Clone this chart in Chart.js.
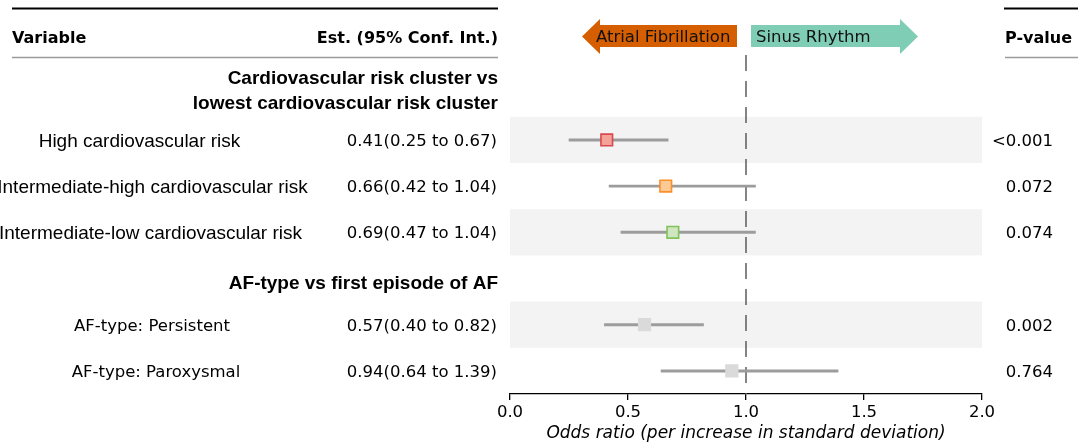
<!DOCTYPE html>
<html><head><meta charset="utf-8">
<script src="https://cdn.jsdelivr.net/npm/chart.js@4.4.1/dist/chart.umd.min.js"></script>
<style>html,body{margin:0;padding:0;background:#fff;overflow:hidden}#wrap{width:1078px;height:447px;position:relative}canvas{display:block}</style>
</head><body><div id="wrap"><canvas id="c" width="1078" height="447"></canvas></div>
<script>
// ---------------- data ----------------
const groupTitles = [["Cardiovascular risk cluster vs", "lowest cardiovascular risk cluster"], ["AF-type vs first episode of AF"]];
const categories = ["High cardiovascular risk", "Intermediate-high cardiovascular risk", "Intermediate-low cardiovascular risk", "AF-type: Persistent", "AF-type: Paroxysmal"];
const groupOfRow = [0, 0, 0, 1, 1];
const estimates = [0.41, 0.66, 0.69, 0.57, 0.94];
const lowerCI = [0.25, 0.42, 0.47, 0.40, 0.64];
const upperCI = [0.67, 1.04, 1.04, 0.82, 1.39];
const pValues = ["<0.001", "0.072", "0.074", "0.002", "0.764"];
const xTicks = [0.0, 0.5, 1.0, 1.5, 2.0];
const refValue = 1.0;
const directionLabels = ["Atrial Fibrillation", "Sinus Rhythm"];
const columnHeaders = ["Variable", "Est. (95% Conf. Int.)", "P-value"];
const xAxisTitle = "Odds ratio (per increase in standard deviation)";

// ---------------- styles / layout (not data) ----------------
const DV = '"DejaVu Sans", sans-serif';
const LS = '"Liberation Sans", Arial, sans-serif';
const labelCenterX = [139.5, 152.5, 150.5, 152, 156];
const labelUsesLS = [true, true, true, false, false];
const markerFill = ['#f4a197', '#fdc994', '#cfe6c0', '#dadada', '#dadada'];
const markerEdge = ['#d7484f', '#fb8f2a', '#82c25a', '#dadada', '#dadada'];

// row index layout: header row then its rows
const rowIndex = []; const headerIndex = []; const shaded = [];
let idx = 0;
groupTitles.forEach((g, gi) => {
  headerIndex.push(idx); idx++;
  let k = 0;
  categories.forEach((c, i) => {
    if (groupOfRow[i] === gi) { rowIndex[i] = idx; shaded[i] = (k % 2 === 0); idx++; k++; }
  });
});
const yMax = idx - 0.5;

const forestPlugin = {
  id: 'forest',
  beforeDatasetsDraw(chart) {
    const {ctx, chartArea: a, scales: {x, y}} = chart;
    const rh = Math.abs(y.getPixelForValue(1) - y.getPixelForValue(0));
    ctx.save();
    ctx.fillStyle = '#f3f3f3';
    categories.forEach((c, i) => {
      if (!shaded[i]) return;
      const py = y.getPixelForValue(rowIndex[i]);
      ctx.fillRect(a.left, py - rh / 2, a.right - a.left, rh);
    });
    // reference line
    const xr = x.getPixelForValue(refValue);
    ctx.strokeStyle = '#5c5c5c';
    ctx.lineWidth = 1.5;
    ctx.setLineDash([16, 10]);
    ctx.beginPath(); ctx.moveTo(xr, a.top); ctx.lineTo(xr, a.bottom); ctx.stroke();
    ctx.restore();
  },
  afterDraw(chart) {
    const {ctx, chartArea: a, scales: {x, y}} = chart;
    ctx.save();
    ctx.setLineDash([]);
    // top rules
    ctx.strokeStyle = '#000'; ctx.lineWidth = 2.2;
    ctx.beginPath(); ctx.moveTo(12, 8.5); ctx.lineTo(498, 8.5); ctx.moveTo(1004, 8.5); ctx.lineTo(1078, 8.5); ctx.stroke();
    ctx.strokeStyle = '#9a9a9a'; ctx.lineWidth = 1.5;
    ctx.beginPath(); ctx.moveTo(12, 57.5); ctx.lineTo(498, 57.5); ctx.moveTo(1005, 57.5); ctx.lineTo(1078, 57.5); ctx.stroke();

    ctx.fillStyle = '#000';
    ctx.textBaseline = 'alphabetic';
    // column headers
    ctx.font = 'bold 16px ' + DV;
    ctx.textAlign = 'left'; ctx.fillText(columnHeaders[0], 12, 43);
    ctx.textAlign = 'right'; ctx.fillText(columnHeaders[1], 498, 43);
    ctx.textAlign = 'left'; ctx.fillText(columnHeaders[2], 1005, 43);

    // group headers
    ctx.font = 'bold 19px ' + LS;
    ctx.textAlign = 'right';
    groupTitles.forEach((g, gi) => {
      const py = y.getPixelForValue(headerIndex[gi]);
      const n = g.length; const lh = 25;
      g.forEach((line, li) => {
        const cy = py + 4 + (n - 1) * 4 + (li - (n - 1)) * lh;
        ctx.fillText(line, 498, cy + 6.8);
      });
    });

    // rows
    categories.forEach((c, i) => {
      const py = y.getPixelForValue(rowIndex[i]);
      ctx.textAlign = 'center';
      if (labelUsesLS[i]) { ctx.font = '19px ' + LS; ctx.fillText(c, labelCenterX[i], py + 6.8); }
      else { ctx.font = '16.5px ' + DV; ctx.fillText(c, labelCenterX[i], py + 6); }
      ctx.font = '16.5px ' + DV;
      ctx.textAlign = 'right';
      ctx.fillText(estimates[i].toFixed(2) + '(' + lowerCI[i].toFixed(2) + ' to ' + upperCI[i].toFixed(2) + ')', 497, py + 6);
      ctx.fillText(pValues[i], 1053, py + 6);
    });

    // direction arrows
    const xr = x.getPixelForValue(refValue);
    function arrow(tail, base, tip, color) {
      ctx.fillStyle = color;
      ctx.beginPath();
      ctx.moveTo(tail, 25); ctx.lineTo(base, 25); ctx.lineTo(base, 19); ctx.lineTo(tip, 36.5);
      ctx.lineTo(base, 54); ctx.lineTo(base, 47); ctx.lineTo(tail, 47); ctx.closePath(); ctx.fill();
    }
    arrow(xr - 9, xr - 146, xr - 164, '#d55e00');
    arrow(xr + 5, xr + 154, xr + 172, '#80cdb6');
    ctx.fillStyle = '#111';
    ctx.font = '16.5px ' + DV;
    ctx.textAlign = 'left';
    ctx.fillText(directionLabels[0], xr - 150, 42);
    ctx.fillText(directionLabels[1], xr + 10, 42);
    ctx.restore();
  }
};

new Chart(document.getElementById('c'), {
  type: 'bar',
  data: {
    datasets: [
      {
        type: 'bar', indexAxis: 'y',
        data: categories.map((c, i) => ({x: [lowerCI[i], upperCI[i]], y: rowIndex[i]})),
        backgroundColor: '#9c9c9c', borderWidth: 0, barThickness: 2.3, order: 1
      },
      {
        type: 'scatter',
        data: categories.map((c, i) => ({x: estimates[i], y: rowIndex[i]})),
        pointStyle: 'rect', pointRadius: 8.2, pointHoverRadius: 8.2,
        pointBackgroundColor: markerFill, pointBorderColor: markerEdge, pointBorderWidth: 1.6, order: 0
      }
    ]
  },
  options: {
    indexAxis: 'y', responsive: false, animation: false, devicePixelRatio: 1,
    layout: {padding: {left: 510, right: 96, top: 55, bottom: 0}},
    plugins: {legend: {display: false}, tooltip: {enabled: false}},
    scales: {
      x: {
        type: 'linear', position: 'bottom', min: xTicks[0], max: xTicks[xTicks.length - 1], offset: false,
        afterBuildTicks: s => { s.ticks = xTicks.map(v => ({value: v})); },
        afterFit: s => { s.height = 53; },
        ticks: {callback: v => Number(v).toFixed(1), font: {family: DV, size: 16.5}, color: '#000', padding: 3, maxRotation: 0, autoSkip: false},
        grid: {drawOnChartArea: false, drawTicks: true, tickLength: 6, color: '#000', lineWidth: 1.3, offset: false},
        border: {color: '#000', width: 1.3},
        title: {display: true, text: xAxisTitle, font: {family: DV, size: 17, style: 'italic'}, color: '#000', padding: {top: 0, bottom: 3}}
      },
      y: {type: 'linear', reverse: true, min: -0.838, max: yMax, display: false, offset: false, grid: {offset: false}}
    }
  },
  plugins: [forestPlugin]
});
</script>
</body></html>
